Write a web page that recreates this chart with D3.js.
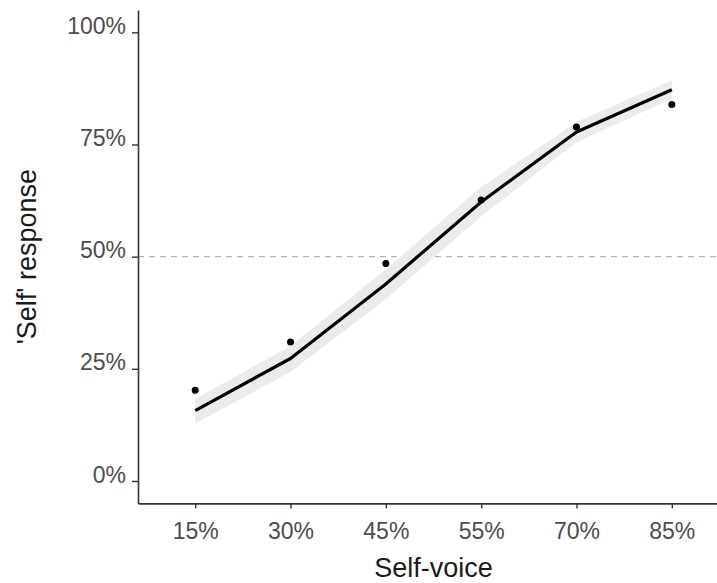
<!DOCTYPE html>
<html>
<head>
<meta charset="utf-8">
<script src="https://cdn.jsdelivr.net/npm/d3@7"></script>
<style>
  html, body { margin: 0; padding: 0; background: #ffffff; }
  svg { display: block; }
</style>
</head>
<body>
<svg id="chart" width="717" height="583"></svg>
<script>
// ---- data ----
const categories = ["15%", "30%", "45%", "55%", "70%", "85%"];
const observed   = [0.202, 0.310, 0.485, 0.626, 0.789, 0.839];
const fitted     = [0.157, 0.273, 0.439, 0.622, 0.778, 0.872];
const lower      = [0.128, 0.243, 0.405, 0.590, 0.755, 0.852];
const upper      = [0.183, 0.301, 0.472, 0.655, 0.800, 0.893];
const yTicks     = [0, 0.25, 0.5, 0.75, 1];
const yTickLabels = ["0%", "25%", "50%", "75%", "100%"];
const refLine    = 0.5;
const xTitle = "Self-voice";
const yTitle = "'Self' response";

const rows = categories.map((c, i) => ({
  cat: c, obs: observed[i], fit: fitted[i], lo: lower[i], hi: upper[i]
}));

// ---- layout ----
const svg = d3.select("#chart");
const panel = { left: 138, right: 729, top: 9.9, bottom: 503.4 };

const x = d3.scalePoint()
  .domain(categories)
  .range([panel.left, panel.right])
  .padding(0.6);

const y = d3.scaleLinear()
  .domain([-0.05, 1.05])
  .range([panel.bottom, panel.top]);

const font = "'Liberation Sans', Arial, sans-serif";

// reference line
svg.append("line")
  .attr("x1", panel.left).attr("x2", panel.right)
  .attr("y1", y(refLine)).attr("y2", y(refLine))
  .attr("stroke", "#b3b3b3")
  .attr("stroke-width", 1.1)
  .attr("stroke-dasharray", "6,5");

// ribbon
svg.append("path")
  .datum(rows)
  .attr("fill", "#ebebeb")
  .attr("d", d3.area()
    .x(d => x(d.cat))
    .y0(d => y(d.lo))
    .y1(d => y(d.hi)));

// fitted line
svg.append("path")
  .datum(rows)
  .attr("fill", "none")
  .attr("stroke", "#000")
  .attr("stroke-width", 3.2)
  .attr("stroke-linejoin", "round")
  .attr("d", d3.line()
    .x(d => x(d.cat))
    .y(d => y(d.fit)));

// points
svg.append("g").selectAll("circle")
  .data(rows)
  .join("circle")
  .attr("cx", d => x(d.cat))
  .attr("cy", d => y(d.obs))
  .attr("r", 3.5)
  .attr("fill", "#000");

// y axis
const yAxis = svg.append("g")
  .attr("transform", `translate(${panel.left},0)`)
  .call(d3.axisLeft(y)
    .tickValues(yTicks)
    .tickFormat((d, i) => yTickLabels[i])
    .tickSize(6)
    .tickPadding(6)
    .tickSizeOuter(0));
yAxis.select(".domain").attr("stroke", "#333").attr("stroke-width", 1.6);
yAxis.selectAll(".tick line").attr("stroke", "#333").attr("stroke-width", 1.4);
yAxis.selectAll(".tick text")
  .attr("fill", "#4d4d4d")
  .attr("font-family", font)
  .attr("font-size", 23)
  .attr("dy", "0.05em");

// x axis
const xAxis = svg.append("g")
  .attr("transform", `translate(0,${panel.bottom})`)
  .call(d3.axisBottom(x)
    .tickSize(5)
    .tickPadding(14)
    .tickSizeOuter(0));
xAxis.select(".domain").attr("stroke", "#333").attr("stroke-width", 1.6);
xAxis.selectAll(".tick line").attr("stroke", "#333").attr("stroke-width", 1.4);
xAxis.selectAll(".tick text")
  .attr("fill", "#4d4d4d")
  .attr("font-family", font)
  .attr("font-size", 23);

// titles
svg.append("text")
  .attr("x", (panel.left + panel.right) / 2)
  .attr("y", 577)
  .attr("text-anchor", "middle")
  .attr("font-family", font)
  .attr("font-size", 27)
  .attr("fill", "#1a1a1a")
  .text(xTitle);

svg.append("text")
  .attr("transform", `translate(36,${(panel.top + panel.bottom) / 2}) rotate(-90)`)
  .attr("text-anchor", "middle")
  .attr("font-family", font)
  .attr("font-size", 27)
  .attr("fill", "#1a1a1a")
  .text(yTitle);
</script>
</body>
</html>
